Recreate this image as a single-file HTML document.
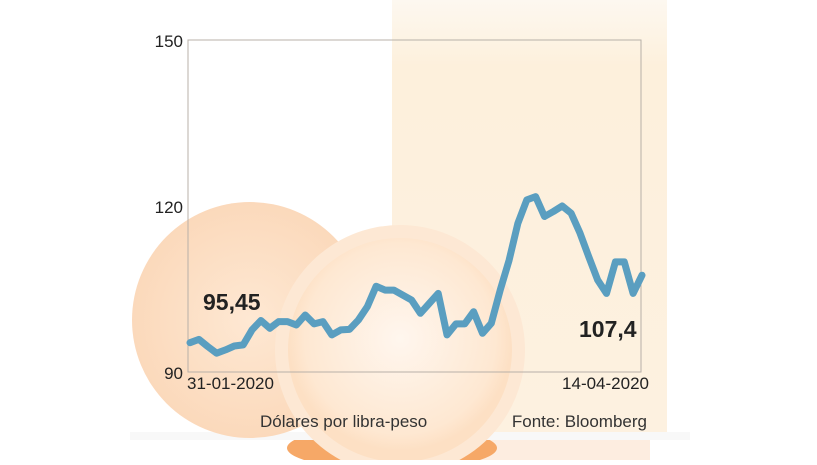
<!DOCTYPE html>
<html><head><meta charset="utf-8"><style>
body{margin:0;width:817px;height:460px;overflow:hidden;background:#fff;font-family:"Liberation Sans",sans-serif}
</style></head><body>
<svg width="817" height="460">
<defs>
<radialGradient id="og" cx="50%" cy="50%" r="50%"><stop offset="0%" stop-color="#fee8d3"/><stop offset="100%" stop-color="#fbd9bb"/></radialGradient>
<radialGradient id="hg" cx="50%" cy="45%" r="50%"><stop offset="0%" stop-color="#fff6ee"/><stop offset="85%" stop-color="#fee8d2"/><stop offset="100%" stop-color="#fde0c4"/></radialGradient>
<linearGradient id="gl" x1="0" y1="0" x2="0" y2="1"><stop offset="0%" stop-color="#fdf8f0"/><stop offset="15%" stop-color="#fdf0dc"/><stop offset="100%" stop-color="#fdf1e0"/></linearGradient>
</defs>
<g>
<rect x="392" y="0" width="275" height="440" fill="url(#gl)"/>
<rect x="400" y="440" width="250" height="20" fill="#fdede0"/>
<ellipse cx="392" cy="448" rx="105" ry="22" fill="#f6a867"/>
<rect x="130" y="432" width="560" height="8" fill="#f8f8f8"/>
<circle cx="250" cy="320" r="118" fill="url(#og)"/>
<circle cx="400" cy="350" r="125" fill="#fde8d4"/>
<circle cx="400" cy="350" r="112" fill="url(#hg)"/>
</g>
<rect x="188" y="40" width="453" height="332" fill="none" stroke="#b8b0a8" stroke-width="1"/>
<g font-size="17" fill="#222">
<text x="183" y="47" text-anchor="end">150</text>
<text x="183" y="213" text-anchor="end">120</text>
<text x="183" y="379" text-anchor="end">90</text>
</g>
<g font-size="17" fill="#222">
<text x="187" y="389">31-01-2020</text>
<text x="649" y="389" text-anchor="end">14-04-2020</text>
</g>
<path id="line" fill="none" stroke="#5a9ec0" stroke-width="7" stroke-linejoin="round" stroke-linecap="round"/>
<text x="203" y="310" font-size="23" font-weight="bold" fill="#222">95,45</text>
<text x="579" y="337" font-size="23" font-weight="bold" fill="#222">107,4</text>
<text x="260" y="427" font-size="17" fill="#333">Dólares por libra-peso</text>
<text x="647" y="427" font-size="17" fill="#333" text-anchor="end">Fonte: Bloomberg</text>
</svg>
<script>
const values=[95.3,95.9,94.6,93.4,94.0,94.7,94.9,97.6,99.3,97.9,99.1,99.1,98.5,100.3,98.7,99.1,96.7,97.6,97.7,99.4,101.8,105.5,104.8,104.8,103.9,103.0,100.6,102.4,104.2,96.7,98.7,98.7,100.9,97.0,98.8,104.8,110.2,116.9,121.1,121.7,118.1,119.0,120.0,118.7,115.1,110.8,106.6,104.2,109.9,109.9,104.2,107.5];
const yTicks=[90,120,150];
function xs(i){return 190+i*(642-190)/(values.length-1);}
function ys(v){return 372-(v-90)*(332/60);}
document.getElementById('line').setAttribute('d',values.map((v,i)=>(i?'L':'M')+xs(i).toFixed(1)+','+ys(v).toFixed(1)).join(''));
</script>
</body></html>
